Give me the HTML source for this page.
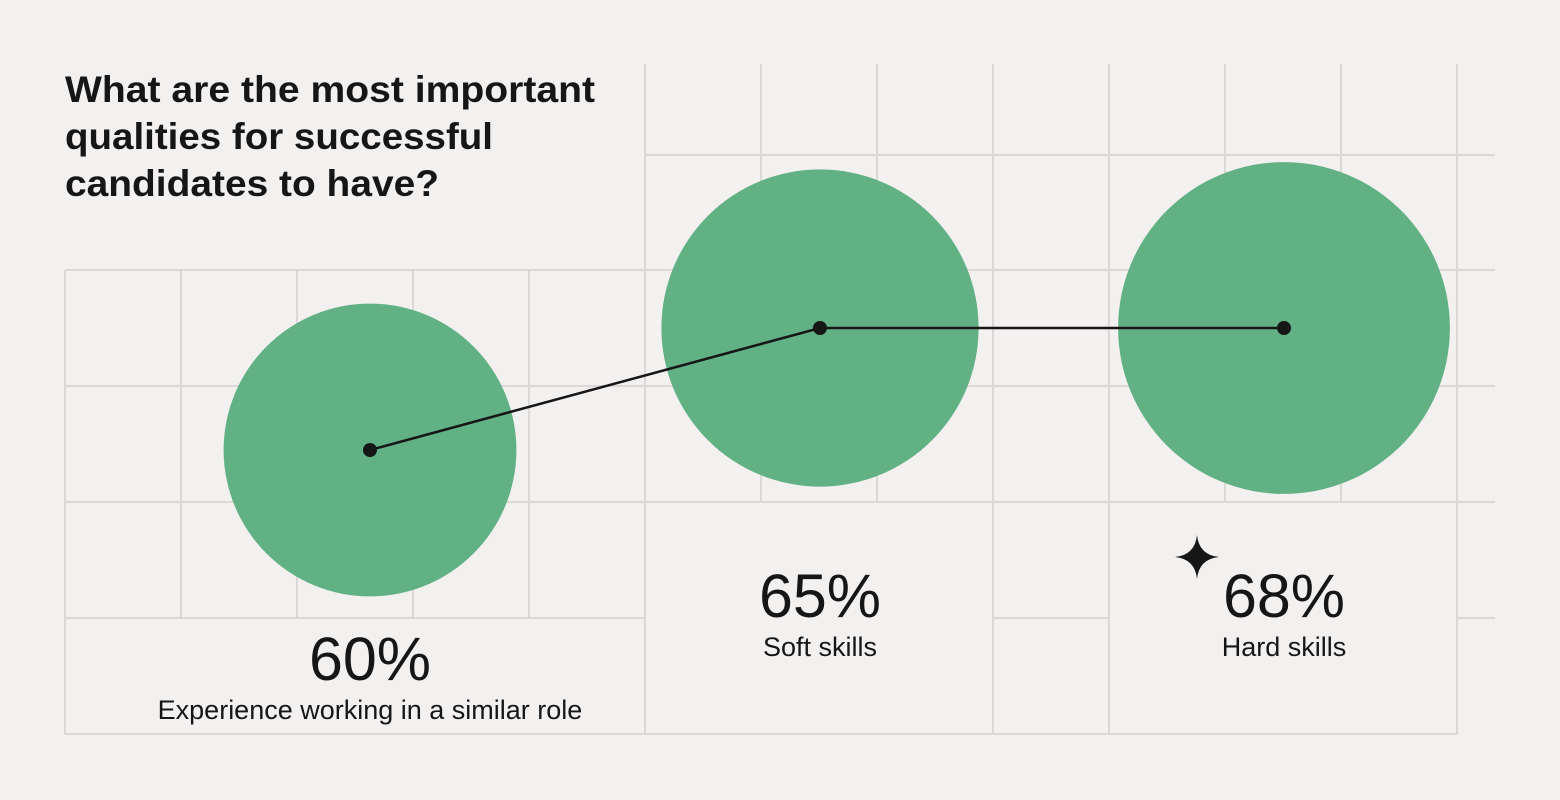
<!DOCTYPE html>
<html><head><meta charset="utf-8"><style>
html,body{margin:0;padding:0;background:#f3f0f0;}
svg{display:block;font-family:"Liberation Sans",sans-serif;}
</style></head><body>
<svg id="chart" width="1560" height="800" viewBox="0 0 1560 800" xmlns="http://www.w3.org/2000/svg">
<rect width="1560" height="800" fill="#f3f0f0"/>
<g id="grid" stroke="#dcd8d8" stroke-width="2" fill="none">
<line x1="65" y1="270" x2="65" y2="735"/>
<line x1="181" y1="270" x2="181" y2="618"/>
<line x1="297" y1="270" x2="297" y2="618"/>
<line x1="413" y1="270" x2="413" y2="618"/>
<line x1="529" y1="270" x2="529" y2="618"/>
<line x1="645" y1="64" x2="645" y2="735"/>
<line x1="761" y1="64" x2="761" y2="502"/>
<line x1="877" y1="64" x2="877" y2="502"/>
<line x1="993" y1="64" x2="993" y2="735"/>
<line x1="1109" y1="64" x2="1109" y2="735"/>
<line x1="1225" y1="64" x2="1225" y2="502"/>
<line x1="1341" y1="64" x2="1341" y2="502"/>
<line x1="1457" y1="64" x2="1457" y2="735"/>
<line x1="645" y1="155" x2="1495" y2="155"/>
<line x1="65" y1="270" x2="1495" y2="270"/>
<line x1="65" y1="386" x2="1495" y2="386"/>
<line x1="65" y1="502" x2="1495" y2="502"/>
<line x1="65" y1="618" x2="645" y2="618"/>
<line x1="993" y1="618" x2="1109" y2="618"/>
<line x1="1457" y1="618" x2="1495" y2="618"/>
<line x1="65" y1="734" x2="1457" y2="734"/>
</g>
<g font-size="37" font-weight="bold" fill="#161616">
<text x="65" y="102" textLength="530" lengthAdjust="spacingAndGlyphs">What are the most important</text>
<text x="65" y="149" textLength="428" lengthAdjust="spacingAndGlyphs">qualities for successful</text>
<text x="65" y="196" textLength="374" lengthAdjust="spacingAndGlyphs">candidates to have?</text>
</g>
<g id="bubbles"></g>
<g id="connector"></g>
<g id="labels"></g>
<path fill="#161616" d="M1197 535 Q1199 555 1219 557 Q1199 559 1197 579 Q1195 559 1175 557 Q1195 555 1197 535 Z"/>
</svg>
<script>
const categories = ["Experience working in a similar role", "Soft skills", "Hard skills"];
const values = [60, 65, 68];
const valueLabels = ["60%", "65%", "68%"];
// layout (not data)
const centersX = [370, 820, 1284];
const centersY = [450, 328, 328];
const labelBaseY = [680, 617, 617];
const rScale = v => v * 2.44;
const NS = "http://www.w3.org/2000/svg";
const gB = document.getElementById("bubbles");
const gC = document.getElementById("connector");
const gL = document.getElementById("labels");
function mk(tag, attrs, parent){const e=document.createElementNS(NS,tag);for(const k in attrs)e.setAttribute(k,attrs[k]);parent.appendChild(e);return e;}
values.forEach((v,i)=>{
  const c = mk("circle",{cx:centersX[i],cy:centersY[i],r:rScale(v),fill:"#62b185"},gB);
  
  
});
let pts = values.map((v,i)=>centersX[i]+","+centersY[i]).join(" ");
const pl = mk("polyline",{points:pts,fill:"none",stroke:"#161616","stroke-width":2.5},gC);


values.forEach((v,i)=>{
  const d = mk("circle",{cx:centersX[i],cy:centersY[i],r:7,fill:"#161616"},gC);
  
  
  const t = mk("text",{x:centersX[i],y:labelBaseY[i],"text-anchor":"middle","font-size":61,fill:"#161616"},gL);
  t.textContent = valueLabels[i];
  
  
  const c = mk("text",{x:centersX[i],y:labelBaseY[i]+39,"text-anchor":"middle","font-size":27,fill:"#161616"},gL);
  c.textContent = categories[i];
  
  
});
</script>
</body></html>
